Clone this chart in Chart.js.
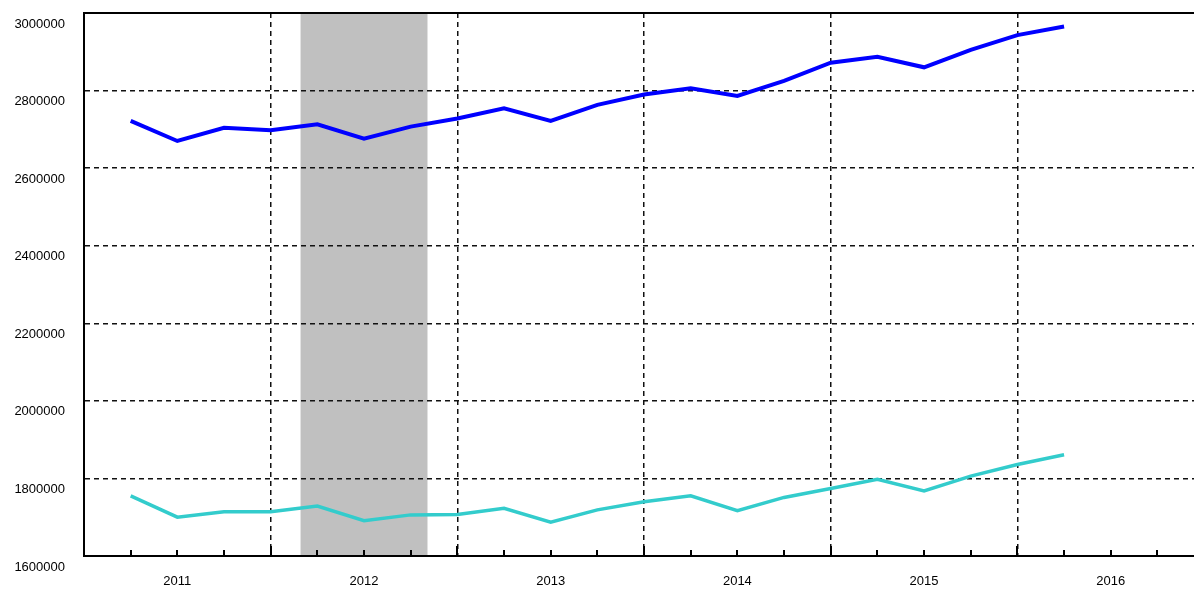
<!DOCTYPE html>
<html>
<head>
<meta charset="utf-8">
<script src="https://cdn.jsdelivr.net/npm/chart.js@4"></script>
<style>
  html, body { margin: 0; padding: 0; background: #fff; overflow: hidden; }
</style>
</head>
<body>
<canvas id="chart" width="1194" height="590"></canvas>
<script>
// quarterly points, x in fractional years
const quarters = [2011.25, 2011.5, 2011.75, 2012, 2012.25, 2012.5, 2012.75, 2013, 2013.25, 2013.5, 2013.75,
                  2014, 2014.25, 2014.5, 2014.75, 2015, 2015.25, 2015.5, 2015.75, 2016, 2016.25];
const upperSeries = [2722000, 2670000, 2704000, 2698000, 2713000, 2676000, 2707000, 2728000, 2754000, 2722000, 2763000,
                     2790000, 2806000, 2786000, 2825000, 2872000, 2887000, 2860000, 2905000, 2943000, 2965000];
const lowerSeries = [1755000, 1700000, 1714000, 1714000, 1729000, 1691000, 1706000, 1707000, 1723000, 1687000, 1719000,
                     1740000, 1755000, 1717000, 1751000, 1774000, 1798000, 1768000, 1806000, 1836000, 1861000];
const yTicks = [1600000, 1800000, 2000000, 2200000, 2400000, 2600000, 2800000, 3000000];
const yearLabels = [2011, 2012, 2013, 2014, 2015, 2016];
const shadedSpan = [2012.16, 2012.84];

const quarterTicks = yearLabels.flatMap(y => [y, y + 0.25, y + 0.5, y + 0.75]);
const labelFont = { family: 'Liberation Sans', size: 13 };

const framePlugin = {
    id: 'frame',
    beforeDraw(chart) {
        const { ctx, chartArea, scales: { x } } = chart;
        const x1 = x.getPixelForValue(shadedSpan[0]);
        const x2 = x.getPixelForValue(shadedSpan[1]);
        ctx.save();
        ctx.fillStyle = '#c0c0c0';
        ctx.fillRect(x1, chartArea.top, x2 - x1, chartArea.bottom - chartArea.top);
        ctx.restore();
    },
    afterDraw(chart) {
        const { ctx, chartArea, scales: { x } } = chart;
        ctx.save();
        ctx.strokeStyle = '#000';
        ctx.lineWidth = 2;
        // tick marks point up into the plot
        x.ticks.forEach(t => {
            if (t.value <= x.min) return;
            const px = Math.round(x.getPixelForValue(t.value));
            const len = t.value % 1 === 0 ? 10 : 6;
            ctx.beginPath();
            ctx.moveTo(px, chartArea.bottom);
            ctx.lineTo(px, chartArea.bottom - len);
            ctx.stroke();
        });
        // top border
        ctx.beginPath();
        ctx.moveTo(chartArea.left, chartArea.top);
        ctx.lineTo(chartArea.right, chartArea.top);
        ctx.stroke();
        ctx.restore();
    }
};

const chartCtx = document.getElementById('chart').getContext('2d');
new Chart(chartCtx, {
    type: 'line',
    data: {
        datasets: [
            {
                data: quarters.map((q, i) => ({ x: q, y: upperSeries[i] })),
                borderColor: '#0000ff',
                borderWidth: 4,
                pointRadius: 0,
                tension: 0
            },
            {
                data: quarters.map((q, i) => ({ x: q, y: lowerSeries[i] })),
                borderColor: '#33cccc',
                borderWidth: 3.5,
                pointRadius: 0,
                tension: 0
            }
        ]
    },
    options: {
        responsive: false,
        animation: false,
        layout: { padding: { top: 13, left: 0, right: 0, bottom: 0 } },
        plugins: {
            legend: { display: false },
            tooltip: { enabled: false }
        },
        scales: {
            x: {
                type: 'linear',
                min: 2011,
                max: 2016.946,
                afterBuildTicks: scale => { scale.ticks = quarterTicks.map(v => ({ value: v })); },
                afterFit: scale => { scale.height = 34; scale.paddingLeft = 0; scale.paddingRight = 0; },
                grid: {
                    color: c => (c.tick && c.tick.value % 1 === 0 && c.tick.value > 2011) ? '#111' : 'transparent',
                    lineWidth: 1.5,
                    drawTicks: false
                },
                border: { display: true, color: '#000', width: 2, dash: [5, 4] },
                ticks: {
                    autoSkip: false,
                    maxRotation: 0,
                    padding: 18,
                    color: '#000',
                    font: labelFont,
                    callback: v => (v % 1 === 0.5 ? String(Math.floor(v)) : '')
                }
            },
            y: {
                min: 1600000,
                max: 3000000,
                afterBuildTicks: scale => { scale.ticks = yTicks.map(v => ({ value: v })); },
                afterFit: scale => { scale.width = 84; scale.paddingTop = 0; scale.paddingBottom = 0; },
                grid: {
                    color: c => (c.tick && (c.tick.value === 1600000 || c.tick.value === 3000000)) ? 'transparent' : '#111',
                    lineWidth: 1.5,
                    drawTicks: false
                },
                border: { display: true, color: '#000', width: 2, dash: [5, 4] },
                ticks: {
                    padding: 19,
                    labelOffset: 11,
                    color: '#000',
                    font: labelFont,
                    callback: v => String(v)
                }
            }
        }
    },
    plugins: [framePlugin]
});
</script>
</body>
</html>
